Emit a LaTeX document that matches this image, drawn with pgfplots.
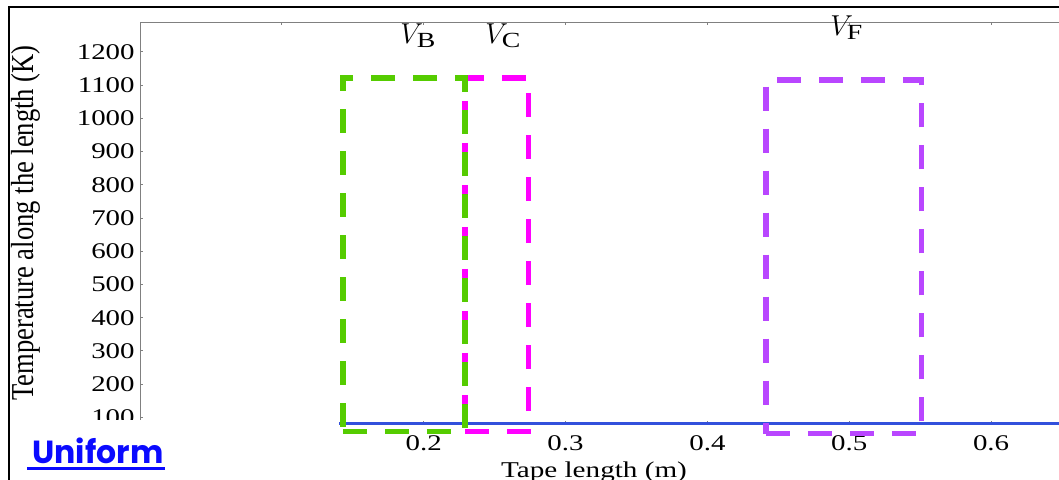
\documentclass[border=0pt]{standalone}
\usepackage{fontspec}
\setmainfont{Liberation Serif}[FakeStretch=1.29]
\newfontfamily\ylabfont{Liberation Serif}
\newfontfamily\unifont{Poppins}
\usepackage{pgfplots}
\pgfplotsset{compat=1.18}
\definecolor{vbgreen}{RGB}{85,204,0}
\definecolor{vcmag}{RGB}{255,0,255}
\definecolor{vfpur}{RGB}{185,70,255}
\definecolor{tline}{RGB}{50,80,220}
\definecolor{axgray}{RGB}{128,128,128}
\definecolor{ublue}{RGB}{10,10,255}
\begin{document}
\begin{tikzpicture}
\useasboundingbox (0,0) rectangle (529.5pt,-239.5pt);
\begin{scope}
\clip (0,0) rectangle (529.5pt,-239.5pt);
\begin{axis}[
  at={(70pt,-212pt)}, anchor=south west,
  scale only axis, width=461pt, height=201pt,
  xmin=0, xmax=0.65, ymin=80, ymax=1290,
  axis line style={axgray, line width=0.5pt},
  every tick/.style={axgray, line width=0.5pt},
  tick align=inside, major tick length=1.6pt,
  xtick={0.1,0.2,0.3,0.4,0.5,0.6},
  xticklabels={,0.2,0.3,0.4,0.5,0.6},
  ytick={100,200,300,400,500,600,700,800,900,1000,1100,1200},
  /pgf/number format/1000 sep={},
  /pgf/number format/assume math mode=true,
  tick label style={font=\fontsize{11.2pt}{13pt}\selectfont},
  yticklabel style={inner sep=0pt, anchor=east, xshift=-2.5pt},
  xticklabel style={inner sep=0pt, anchor=north, yshift=-5.5pt},
  xlabel={Tape length (m)},
  xlabel style={at={(axis description cs:0.4924,0)}, anchor=base, yshift=-26.5pt, font=\fontsize{11.3pt}{13pt}\selectfont},
  ylabel={\scalebox{1}[1.2]{Temperature along the length (K)}},
  ylabel style={at={(axis description cs:-0.116,0.5)}, anchor=base, font=\ylabfont\fontsize{13.3pt}{15pt}\selectfont},
  clip=false,
]
\addplot[tline, line width=1.3pt, mark=none] coordinates {(0,81) (0.65,81)};
\addplot[vcmag, line width=2.8pt, dash pattern=on 12pt off 9pt, line cap=butt, mark=none] coordinates {(0.2292,57) (0.274,57) (0.274,1122) (0.2292,1122) (0.2292,57)};
\addplot[vbgreen, line width=2.8pt, dash pattern=on 12pt off 9pt, line cap=butt, mark=none] coordinates {(0.143,57) (0.2292,57) (0.2292,1122) (0.143,1122) (0.143,57)};
\addplot[vfpur, line width=2.8pt, dash pattern=on 12pt off 9pt, line cap=butt, mark=none] coordinates {(0.4412,51) (0.551,51) (0.551,1116) (0.4412,1116) (0.4412,51)};
\end{axis}
\fill[white] (5.3pt,-210pt) rectangle (169.5pt,-240pt);
\draw[black, line width=1pt] (4.65pt,-241pt) -- (4.65pt,-3.35pt) -- (531pt,-3.35pt);
\node[anchor=base west, inner sep=0pt, text=ublue] at (16pt,-231.5pt) {\resizebox{65.5pt}{12.8pt}{\unifont\bfseries Uniform}};
\fill[ublue] (13.5pt,-233.5pt) rectangle (82.5pt,-235pt);
\node[anchor=base west, inner sep=0pt] at (200pt,-21.5pt) {\fontsize{15.4pt}{18pt}\selectfont $V_{\mathrm{B}}$};
\node[anchor=base west, inner sep=0pt] at (242.5pt,-21.5pt) {\fontsize{15.4pt}{18pt}\selectfont $V_{\mathrm{C}}$};
\node[anchor=base west, inner sep=0pt] at (415pt,-17.5pt) {\fontsize{15.4pt}{18pt}\selectfont $V_{\mathrm{F}}$};
\end{scope}
\end{tikzpicture}
\end{document}
